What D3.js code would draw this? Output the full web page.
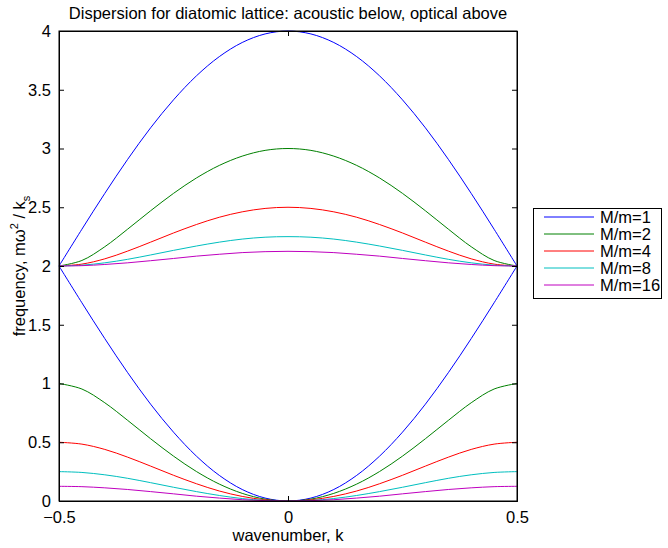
<!DOCTYPE html>
<html><head><meta charset="utf-8">
<script src="https://cdn.jsdelivr.net/npm/d3@7"></script>
<style>body{margin:0;background:#fff}svg{display:block}text{font-family:"Liberation Sans",Arial,sans-serif}</style>
</head><body><div id="chart"></div>
<script>
const kValues=[-0.5,-0.45,-0.4,-0.35,-0.3,-0.25,-0.2,-0.15,-0.1,-0.05,0,0.05,0.1,0.15,0.2,0.25,0.3,0.35,0.4,0.45,0.5];
// half-curves k = 0 .. 0.5 (symmetric)
const opt1=[4,3.975,3.902,3.782,3.618,3.414,3.176,2.908,2.618,2.313,2];
const ac1=[0,0.025,0.098,0.218,0.382,0.586,0.824,1.092,1.382,1.687,2];
const opt2=[3,2.984,2.935,2.856,2.749,2.618,2.470,2.314,2.164,2.047,2];
const ac2=[0,0.016,0.065,0.144,0.251,0.382,0.530,0.686,0.836,0.953,1];
const opt4=[2.5,2.490,2.461,2.415,2.353,2.281,2.203,2.127,2.061,2.016,2];
const ac4=[0,0.010,0.039,0.085,0.147,0.219,0.297,0.373,0.439,0.484,0.5];
const opt8=[2.25,2.245,2.229,2.203,2.170,2.133,2.094,2.057,2.027,2.007,2];
const ac8=[0,0.005,0.021,0.047,0.080,0.117,0.156,0.193,0.223,0.243,0.25];
const opt16=[2.125,2.122,2.114,2.100,2.084,2.064,2.045,2.027,2.013,2.003,2];
const ac16=[0,0.003,0.011,0.025,0.041,0.061,0.080,0.098,0.112,0.122,0.125];
const seriesNames=["M/m=1","M/m=2","M/m=4","M/m=8","M/m=16"];
const seriesColors=["#0000ff","#008000","#ff0000","#00bfbf","#bf00bf"];
const xTicks=[-0.5,0,0.5];
const yTicks=[0,0.5,1,1.5,2,2.5,3,3.5,4];
const titleText="Dispersion for diatomic lattice: acoustic below, optical above";

const full=h=>h.slice(1).reverse().concat(h);
const series=[[opt1,ac1],[opt2,ac2],[opt4,ac4],[opt8,ac8],[opt16,ac16]];

const W=668,H=548,L=59,R=517,T=31,B=501;
const svg=d3.select("#chart").append("svg").attr("width",W).attr("height",H);
const x=d3.scaleLinear().domain([-0.5,0.5]).range([L,R]);
const y=d3.scaleLinear().domain([0,4]).range([B,T]);
const fs=16.5;

svg.append("rect").attr("x",L).attr("y",T).attr("width",R-L).attr("height",B-T).attr("fill","#fff");

const line=d3.line().x((d,i)=>x(kValues[i])).y(d=>y(d)).curve(d3.curveCatmullRom);
const g=svg.append("g");
series.forEach((s,si)=>{
  s.forEach(h=>{
    g.append("path").datum(full(h)).attr("d",line).attr("fill","none")
     .attr("stroke",seriesColors[si]).attr("stroke-width",1);
  });
});

// axes with inward ticks
const ax=svg.append("g").attr("font-size",fs);
const xb=ax.append("g").attr("transform",`translate(0,${B})`).call(d3.axisBottom(x).tickValues(xTicks).tickSize(-5).tickPadding(8).tickFormat(d=>d===0?"0":(d<0?"\u2212":"")+Math.abs(d)));
const xt=ax.append("g").attr("transform",`translate(0,${T})`).call(d3.axisTop(x).tickValues(xTicks).tickSize(-5).tickFormat(""));
const yl=ax.append("g").attr("transform",`translate(${L},0)`).call(d3.axisLeft(y).tickValues(yTicks).tickSize(-5).tickPadding(8).tickFormat(d=>String(d)));
const yr=ax.append("g").attr("transform",`translate(${R},0)`).call(d3.axisRight(y).tickValues(yTicks).tickSize(-5).tickFormat(""));
ax.selectAll(".domain").attr("stroke","#000").attr("stroke-width",1);
ax.selectAll(".tick line").attr("stroke","#000");
ax.selectAll("text").attr("fill","#000").attr("font-family","Liberation Sans, Arial, sans-serif").attr("font-size",fs);
xb.selectAll(".tick text").attr("y",22).attr("dy",0);
yl.selectAll(".tick text").attr("dy","0.33em");
svg.append("rect").attr("x",L).attr("y",T).attr("width",R-L).attr("height",B-T).attr("fill","none").attr("stroke","#000").attr("stroke-width",1);

svg.append("text").attr("x",(L+R)/2).attr("y",19).attr("text-anchor","middle").attr("font-size",fs).text(titleText);
svg.append("text").attr("x",(L+R)/2).attr("y",541).attr("text-anchor","middle").attr("font-size",fs).text("wavenumber, k");
const yt=svg.append("text").attr("transform",`translate(25,${(T+B)/2}) rotate(-90)`).attr("text-anchor","middle").attr("font-size",fs);
yt.append("tspan").text("frequency, m\u03c9");
yt.append("tspan").attr("dy",-7).attr("font-size",11).text("2");
yt.append("tspan").attr("dy",7).text(" / k");
yt.append("tspan").attr("dy",5).attr("font-size",11).text("s");

// legend
const lg=svg.append("g");
lg.append("rect").attr("x",533.5).attr("y",208.5).attr("width",128).attr("height",90).attr("fill","#fff").attr("stroke","#000");
seriesNames.forEach((n,i)=>{
  const yy=217+i*17;
  lg.append("line").attr("x1",544).attr("x2",594).attr("y1",yy).attr("y2",yy).attr("stroke",seriesColors[i]);
  lg.append("text").attr("x",600).attr("y",yy+6).attr("font-size",fs).text(n);
});
</script></body></html>
